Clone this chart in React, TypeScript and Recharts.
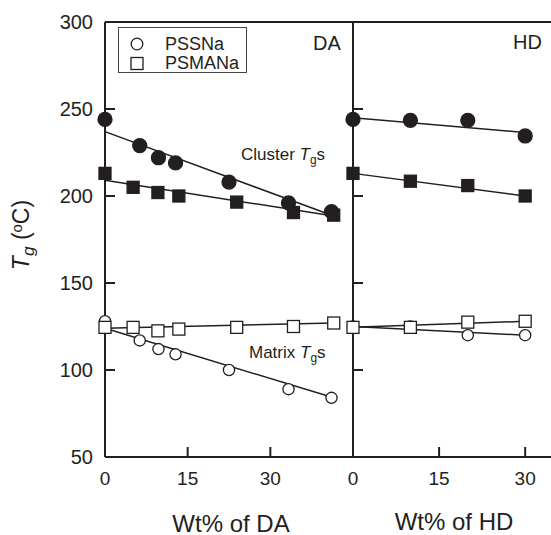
import React from 'react';
import { ComposedChart, Line, Scatter, XAxis, YAxis, ReferenceLine } from 'recharts';

const FONT = '"Liberation Sans", Arial, Helvetica, sans-serif';
const INK = '#231f20';

// DA panel (wt% of DA)
const daSsX = [0, 6.3, 9.7, 12.8, 22.5, 33.3, 41.1];
const daClusterSs = [244, 229, 222, 219, 208, 196, 191];
const daMatrixSs = [128, 117, 112, 109, 100, 89, 84];
const daMaX = [0, 5.1, 9.6, 13.4, 23.9, 34.2, 41.5];
const daClusterMa = [213, 205, 202, 200, 196.5, 190.5, 189];
const daMatrixMa = [124.5, 124.5, 122.5, 123.5, 124.5, 125, 127];

// HD panel (wt% of HD)
const hdX = [0, 10, 20, 30];
const hdClusterSs = [244, 243.5, 243.5, 234.5];
const hdClusterMa = [213, 208.5, 206, 200];
const hdMatrixSs = [125, 125, 120, 120];
const hdMatrixMa = [124.5, 124.5, 127.5, 128];

// fitted lines: [x start, x end], [y start, y end]
const daFitX = [0, 41.5];
const daFitClusterSs = [237, 188.5];
const daFitClusterMa = [209, 188.5];
const daFitMatrixSs = [124, 84];
const daFitMatrixMa = [124, 127];
const hdFitX = [0, 30];
const hdFitClusterSs = [245, 236.5];
const hdFitClusterMa = [213, 200];
const hdFitMatrixSs = [125, 120];
const hdFitMatrixMa = [124.5, 128];

const yTicks = [50, 100, 150, 200, 250, 300];
const daTicks = [0, 15, 30];
const hdTicks = [0, 15, 30];

const zip = (xs: number[], ys: number[]) => xs.map((x, i) => ({ x, y: ys[i] }));

const dot = (filled: boolean) => (p: any) => (
  <circle cx={p.cx} cy={p.cy} r={filled ? 7 : 5.6} fill={filled ? INK : '#fff'} stroke={INK} strokeWidth={1.3} />
);
const box = (filled: boolean) => (p: any) => (
  <rect x={p.cx - 6} y={p.cy - 6} width={12} height={12} fill={filled ? INK : '#fff'} stroke={INK} strokeWidth={1.3} />
);

const xTickStyle = { fill: INK, fontSize: 19, fontFamily: FONT };
const yTickStyle = { fill: INK, fontSize: 20, fontFamily: FONT };
const axisLine = { stroke: INK, strokeWidth: 2 };

function fits(xs: number[], list: number[][]) {
  return list.map((ys, i) => (
    <Line
      key={'fit' + i}
      data={zip(xs, ys)}
      dataKey="y"
      type="linear"
      stroke={INK}
      strokeWidth={1.5}
      dot={false}
      activeDot={false}
      isAnimationActive={false}
    />
  ));
}

function Sub({ children }: { children: React.ReactNode }) {
  return <span style={{ fontSize: '0.7em', position: 'relative', top: '0.35em' }}>{children}</span>;
}

export default function App() {
  return (
    <div style={{ position: 'absolute', left: 0, top: 0, width: 551, height: 535, overflow: 'hidden', background: '#fff', fontFamily: FONT, color: INK }}>
      <div style={{ position: 'absolute', left: 0, top: 0 }}>
        <ComposedChart width={360} height={535} margin={{ top: 22, right: 7, bottom: 0, left: 0 }}>
          <XAxis
            type="number"
            dataKey="x"
            domain={[0, 45]}
            ticks={daTicks}
            height={78}
            tickSize={-10}
            tickMargin={25}
            tick={xTickStyle}
            axisLine={axisLine}
            tickLine={axisLine}
          />
          <YAxis
            type="number"
            dataKey="y"
            domain={[50, 300]}
            ticks={yTicks}
            width={105}
            tickSize={-10}
            tickMargin={22}
            tick={yTickStyle}
            axisLine={axisLine}
            tickLine={axisLine}
          />
          <ReferenceLine y={300} stroke={INK} strokeWidth={2} />
          {fits(daFitX, [daFitClusterSs, daFitClusterMa, daFitMatrixSs, daFitMatrixMa])}
          <Scatter data={zip(daSsX, daClusterSs)} shape={dot(true)} isAnimationActive={false} />
          <Scatter data={zip(daMaX, daClusterMa)} shape={box(true)} isAnimationActive={false} />
          <Scatter data={zip(daSsX, daMatrixSs)} shape={dot(false)} isAnimationActive={false} />
          <Scatter data={zip(daMaX, daMatrixMa)} shape={box(false)} isAnimationActive={false} />
        </ComposedChart>
      </div>

      <div style={{ position: 'absolute', left: 333, top: 0 }}>
        <ComposedChart width={218} height={535} margin={{ top: 22, right: 0, bottom: 0, left: 0 }}>
          <XAxis
            type="number"
            dataKey="x"
            domain={[0, 34.5]}
            ticks={hdTicks}
            height={78}
            tickSize={-10}
            tickMargin={25}
            tick={xTickStyle}
            axisLine={axisLine}
            tickLine={axisLine}
          />
          <YAxis
            type="number"
            dataKey="y"
            domain={[50, 300]}
            ticks={yTicks}
            width={20}
            tickSize={-10}
            tickFormatter={() => ''}
            axisLine={axisLine}
            tickLine={axisLine}
          />
          <ReferenceLine y={300} stroke={INK} strokeWidth={2} />
          {fits(hdFitX, [hdFitClusterSs, hdFitClusterMa, hdFitMatrixSs, hdFitMatrixMa])}
          <Scatter data={zip(hdX, hdClusterSs)} shape={dot(true)} isAnimationActive={false} />
          <Scatter data={zip(hdX, hdClusterMa)} shape={box(true)} isAnimationActive={false} />
          <Scatter data={zip(hdX, hdMatrixSs)} shape={dot(false)} isAnimationActive={false} />
          <Scatter data={zip(hdX, hdMatrixMa)} shape={box(false)} isAnimationActive={false} />
        </ComposedChart>
      </div>

      {/* legend */}
      <div style={{ position: 'absolute', left: 118, top: 27, width: 129, height: 46, border: '1px solid #444', boxSizing: 'border-box', fontSize: 18 }}>
        <svg width={34} height={46} style={{ position: 'absolute', left: 0, top: 0 }}>
          <circle cx={18} cy={16} r={5.8} fill="#fff" stroke={INK} strokeWidth={1.3} />
          <rect x={12} y={29.5} width={12} height={12} fill="#fff" stroke={INK} strokeWidth={1.3} />
        </svg>
        <div style={{ position: 'absolute', left: 46, top: 6, lineHeight: '20px' }}>PSSNa</div>
        <div style={{ position: 'absolute', left: 46, top: 24.5, lineHeight: '20px' }}>PSMANa</div>
      </div>

      <div style={{ position: 'absolute', left: 313, top: 31, fontSize: 20, lineHeight: '24px' }}>DA</div>
      <div style={{ position: 'absolute', left: 513, top: 30, fontSize: 20, lineHeight: '24px' }}>HD</div>

      <div style={{ position: 'absolute', left: 241, top: 145, fontSize: 17, lineHeight: '20px', whiteSpace: 'nowrap' }}>
        Cluster <i>T</i><Sub>g</Sub>s
      </div>
      <div style={{ position: 'absolute', left: 249, top: 343, fontSize: 17, lineHeight: '20px', whiteSpace: 'nowrap' }}>
        Matrix <i>T</i><Sub>g</Sub>s
      </div>

      <div
        style={{
          position: 'absolute', left: 22, top: 235, fontSize: 23, lineHeight: '26px', whiteSpace: 'nowrap',
          transform: 'translate(-50%, -50%) rotate(-90deg)',
        }}
      >
        <i>T</i><i style={{ fontSize: '0.75em', position: 'relative', top: '0.3em' }}>g</i> (<span style={{ fontSize: '0.65em', position: 'relative', top: '-0.5em' }}>o</span>C)
      </div>

      <div style={{ position: 'absolute', left: 231, top: 513.5, fontSize: 24, lineHeight: '20px', transform: 'translateX(-50%)', whiteSpace: 'nowrap' }}>
        Wt% of DA
      </div>
      <div style={{ position: 'absolute', left: 454, top: 511.5, fontSize: 24, lineHeight: '20px', transform: 'translateX(-50%)', whiteSpace: 'nowrap' }}>
        Wt% of HD
      </div>
    </div>
  );
}
